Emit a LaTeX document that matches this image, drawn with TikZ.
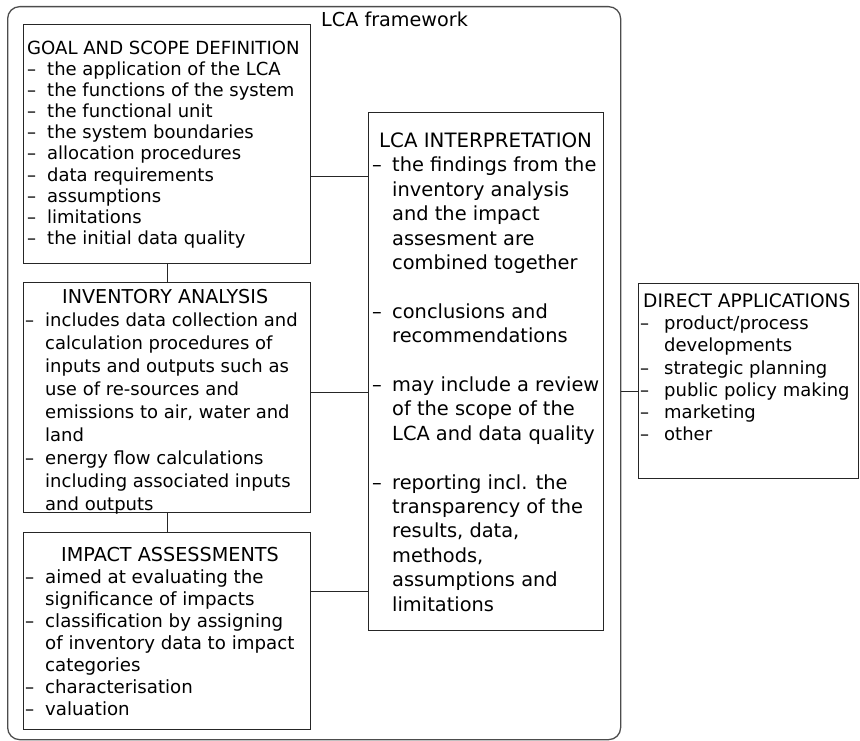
\documentclass[tikz,border=0pt]{standalone}
\usepackage{fontspec}
\setmainfont{DejaVu Sans}
\usepackage{tikz}

\newlength{\dashw}
\setlength{\dashw}{20pt}
\newcommand{\itm}{\makebox[\dashw][l]{–}}
\newcommand{\cnt}{\hspace*{\dashw}}
\newcommand{\ttl}[2]{{\fontsize{#1}{#1}\selectfont #2}}

\tikzset{
  box/.style={draw=black!85, line width=1pt, inner sep=0pt, anchor=north west},
  txt/.style={inner sep=0pt, anchor=north west, align=left},
  link/.style={draw=black!85, line width=1pt}
}

\begin{document}
\begin{tikzpicture}[x=1pt,y=-1pt]
\useasboundingbox (0,0) rectangle (860,741);

% framework and its boxes
\node[box, draw=black!70, line width=1.3pt, rounded corners=12pt,
  minimum width=613pt, minimum height=733pt] (lca) at (7,6) {};
\node[txt, font=\fontsize{19.2}{23}\selectfont] (lca-t) at (321,11.7) {LCA framework};

\node[box, minimum width=287pt, minimum height=239pt] (goal) at (23,24) {};
\node[box, minimum width=287pt, minimum height=230pt] (inv) at (23,282) {};
\node[box, minimum width=287pt, minimum height=197pt] (impact) at (23,532) {};
\node[box, minimum width=235pt, minimum height=518pt] (interp) at (368,112) {};
\node[box, minimum width=220pt, minimum height=195pt] (apps) at (638,283) {};

% texts
\node[txt, font=\fontsize{18}{21.1}\selectfont] (goal-t) at (27,40.8) {
  \ttl{18.1}{GOAL AND SCOPE DEFINITION}\\
  \itm the application of the LCA\\
  \itm the functions of the system\\
  \itm the functional unit\\
  \itm the system boundaries\\
  \itm allocation procedures\\
  \itm data requirements\\
  \itm assumptions\\
  \itm limitations\\
  \itm the initial data quality};

\node[txt, font=\fontsize{18}{23}\selectfont] (inv-t) at (25,289.1) {
  \hspace*{37pt}\ttl{19.1}{INVENTORY ANALYSIS}\\
  \itm includes data collection and\\
  \cnt calculation procedures of\\
  \cnt inputs and outputs such as\\
  \cnt use of re-sources and\\
  \cnt emissions to air, water and\\
  \cnt land\\
  \itm energy flow calculations\\
  \cnt including associated inputs\\
  \cnt and outputs};

\node[txt, font=\fontsize{18.2}{22}\selectfont] (impact-t) at (25,547) {
  \hspace*{36pt}\ttl{19.2}{IMPACT ASSESSMENTS}\\
  \itm aimed at evaluating the\\
  \cnt significance of impacts\\
  \itm classification by assigning\\
  \cnt of inventory data to impact\\
  \cnt categories\\
  \itm characterisation\\
  \itm valuation};

\node[txt, font=\fontsize{19.4}{24.4}\selectfont] (interp-t) at (372,132.6) {
  \hspace*{7pt}\ttl{19.8}{LCA INTERPRETATION}\\
  \itm the findings from the\\
  \cnt inventory analysis\\
  \cnt and the impact\\
  \cnt assesment are\\
  \cnt combined together\\[24.4pt]
  \itm conclusions and\\
  \cnt recommendations\\[24.4pt]
  \itm may include a review\\
  \cnt of the scope of the\\
  \cnt LCA and data quality\\[24.4pt]
  \itm reporting incl. the\\
  \cnt transparency of the\\
  \cnt results, data,\\
  \cnt methods,\\
  \cnt assumptions and\\
  \cnt limitations};

\node[txt, font=\fontsize{18}{22.2}\selectfont\setlength{\dashw}{24pt}] (apps-t) at (640,293.4) {
  \hspace*{3pt}\ttl{18.6}{DIRECT APPLICATIONS}\\
  \itm product/process\\
  \cnt developments\\
  \itm strategic planning\\
  \itm public policy making\\
  \itm marketing\\
  \itm other};

% connectors
\draw[link] (goal.south) -- (inv.north);
\draw[link] (inv.south) -- (impact.north);
\draw[link] (goal.east |- 0,177) -- (interp.west |- 0,177);
\draw[link] (inv.east |- 0,392) -- (interp.west |- 0,392);
\draw[link] (impact.east |- 0,591) -- (interp.west |- 0,591);
\draw[link] (lca.east |- 0,391) -- (apps.west |- 0,391);
\end{tikzpicture}
\end{document}
